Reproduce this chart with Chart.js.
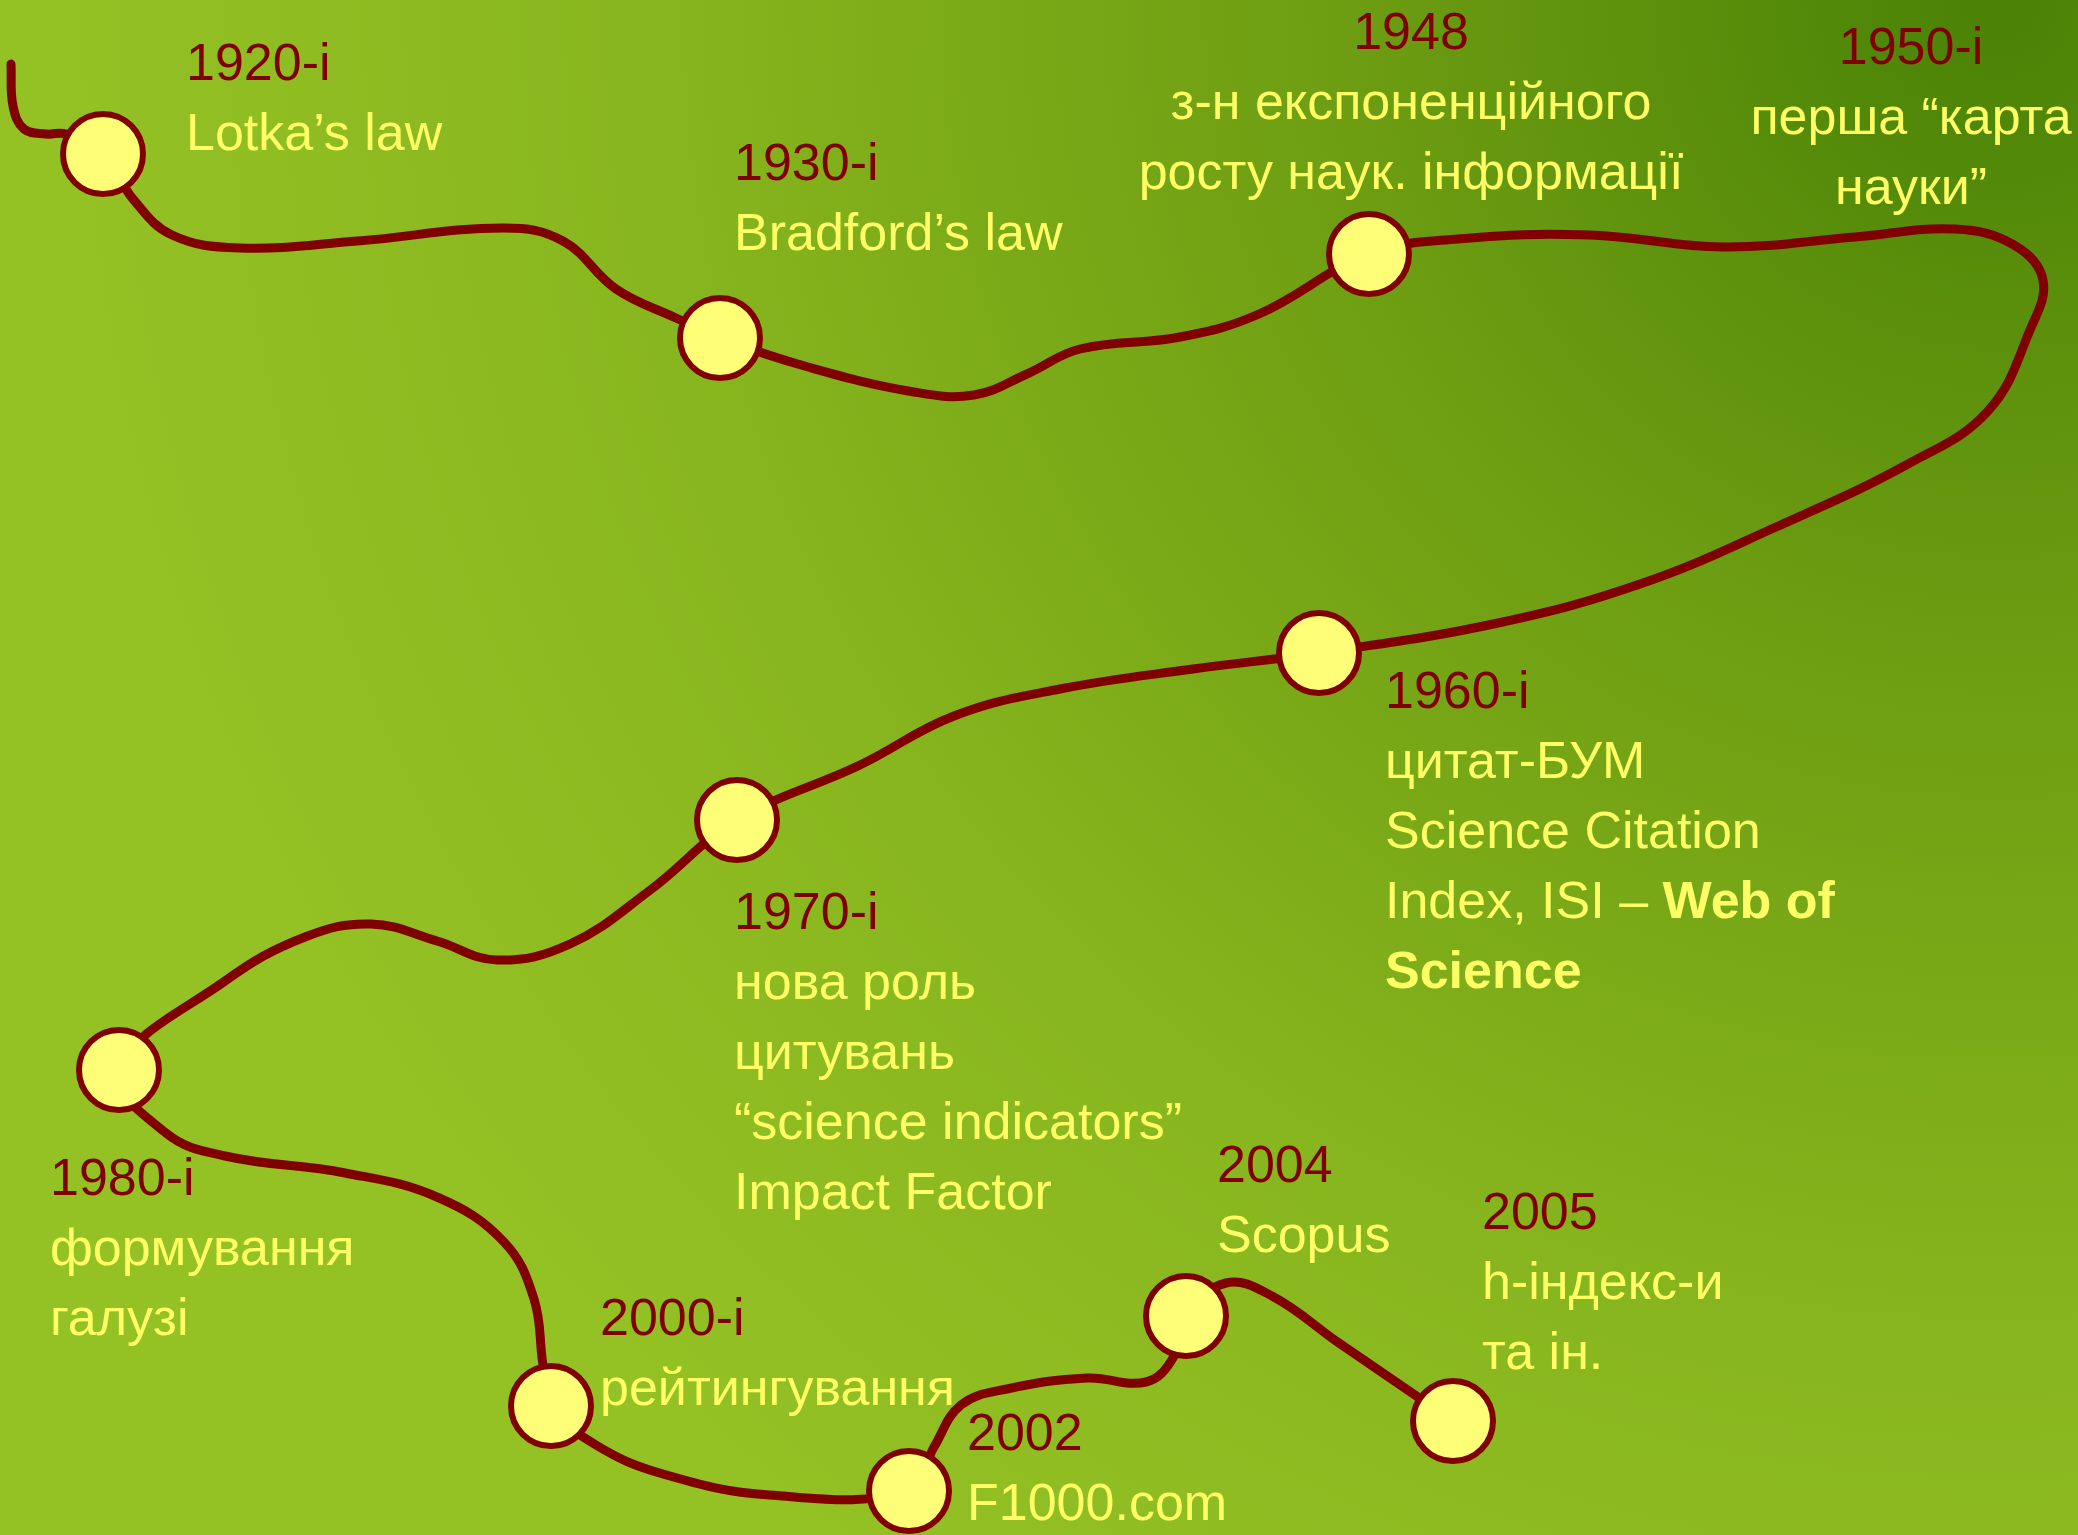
<!DOCTYPE html>
<html lang="uk">
<head>
<meta charset="utf-8">
<title>Історія наукометрії</title>
<script src="https://cdn.jsdelivr.net/npm/chart.js@4.4.1/dist/chart.umd.min.js"></script>
<style>
  html, body { margin: 0; padding: 0; background: #86b41e; overflow: hidden; }
  canvas { display: block; }
</style>
</head>
<body>
<canvas id="timeline" width="2078" height="1535"></canvas>
<script>
// ------------------------------------
// Data (slide coordinates, y goes down)
// ------------------------------------
const nodeX = [103, 720, 1369, 1319, 737, 119, 551, 909, 1186, 1453];
const nodeY = [154, 338, 254, 653, 820, 1070, 1406, 1491, 1316, 1421];

// winding road through the nodes
const pathX = [11, 13, 24, 46, 66, 103, 133, 172, 239, 358, 504, 563, 616, 676, 720,
  808, 914, 974, 1027, 1080, 1180, 1259, 1369,
  1458, 1590, 1723, 1855, 1955, 2014, 2043, 2030, 1988, 1908, 1776, 1643, 1498, 1319,
  1193, 1060, 954, 860, 737,
  649, 570, 497, 437, 371, 305, 225, 119,
  166, 225, 345, 437, 504, 534, 543, 551,
  596, 663, 769, 909,
  934, 961, 1007, 1087, 1146, 1173, 1186,
  1226, 1272, 1339, 1453];
const pathY = [64, 106, 129, 134, 134, 154, 199, 235, 248, 241, 228, 241, 289, 318, 338,
  367, 392, 395, 374, 349, 337, 314, 254,
  239, 235, 247, 237, 229, 245, 280, 330, 411, 464, 527, 583, 623, 653,
  669, 689, 716, 765, 820,
  891, 944, 960, 941, 924, 937, 981, 1070,
  1133, 1156, 1173, 1197, 1242, 1299, 1365, 1406,
  1445, 1474, 1495, 1491,
  1447, 1405, 1389, 1378, 1382, 1358, 1316,
  1283, 1296, 1343, 1421];

// captions: first line is the period
const captionLines = [
  ["1920-і", "Lotka’s law"],
  ["1930-і", "Bradford’s law"],
  ["1948", "з-н експоненційного", "росту наук. інформації"],
  ["1950-і", "перша “карта", "науки”"],
  ["1960-і", "цитат-БУМ", "Science Citation",
    [{ t: "Index, ISI – " }, { t: "Web of", b: true }], [{ t: "Science", b: true }]],
  ["1970-і", "нова роль", "цитувань", "“science indicators”", "Impact Factor"],
  ["1980-і", "формування", "галузі"],
  ["2000-і", "рейтингування"],
  ["2002", "F1000.com"],
  ["2004", "Scopus"],
  ["2005", "h-індекс-и", "та ін."],
];
const captionX = [186, 734, 1411, 1911, 1385, 734, 50, 600, 967, 1217, 1482];
const captionY = [80, 180, 49, 64, 708, 929, 1195, 1335, 1450, 1182, 1229];
const captionAlign = ["left", "left", "center", "center", "left", "left", "left", "left", "left", "left", "left"];

const DARK_RED = "#800000";
const YELLOW = "#ffff66";
const FONT = "'Liberation Sans', Arial, Helvetica, sans-serif";

// ------------------------------------
// background gradient
// ------------------------------------
const backgroundPlugin = {
  id: "slideBackground",
  beforeDraw(chart) {
    const { ctx, width, height } = chart;
    const g = ctx.createRadialGradient(2000, 0, 0, 2000, 0, 1950);
    g.addColorStop(0, "#4a8206");
    g.addColorStop(0.35, "#6e9e12");
    g.addColorStop(0.7, "#88b61e");
    g.addColorStop(1, "#94c124");
    ctx.save();
    ctx.fillStyle = g;
    ctx.fillRect(0, 0, width, height);
    ctx.restore();
  },
};

// ------------------------------------
// captions
// ------------------------------------
const captionPlugin = {
  id: "captions",
  afterDatasetsDraw(chart) {
    const { ctx, scales } = chart;
    const lineStep = 70;
    ctx.save();
    ctx.textBaseline = "alphabetic";
    captionLines.forEach((lines, i) => {
      const px = scales.x.getPixelForValue(captionX[i]);
      let py = scales.y.getPixelForValue(captionY[i]);
      lines.forEach((line, li) => {
        const runs = typeof line === "string" ? [{ t: line }] : line;
        ctx.fillStyle = li === 0 ? DARK_RED : YELLOW;
        const widths = runs.map((r) => {
          ctx.font = `${r.b ? "bold " : ""}52px ${FONT}`;
          return ctx.measureText(r.t).width;
        });
        const total = widths.reduce((a, b) => a + b, 0);
        let x = captionAlign[i] === "center" ? px - total / 2 : px;
        ctx.textAlign = "left";
        runs.forEach((r, ri) => {
          ctx.font = `${r.b ? "bold " : ""}52px ${FONT}`;
          ctx.fillText(r.t, x, py);
          x += widths[ri];
        });
        py += lineStep;
      });
    });
    ctx.restore();
  },
};

// ------------------------------------
// Chart.js
// ------------------------------------
const nodes = nodeX.map((x, i) => ({ x, y: nodeY[i] }));
const road = pathX.map((x, i) => ({ x, y: pathY[i] }));

new Chart(document.getElementById("timeline"), {
  type: "scatter",
  data: {
    datasets: [
      {
        label: "події",
        data: nodes,
        order: 0,
        pointRadius: 40,
        pointHoverRadius: 40,
        pointBackgroundColor: "#ffff77",
        pointBorderColor: DARK_RED,
        pointBorderWidth: 6,
        showLine: false,
        clip: false,
      },
      {
        label: "шлях",
        data: road,
        order: 1,
        showLine: true,
        tension: 0.4,
        borderColor: DARK_RED,
        borderWidth: 9,
        borderCapStyle: "round",
        borderJoinStyle: "round",
        pointRadius: 0,
        pointHoverRadius: 0,
        fill: false,
        clip: false,
      },
    ],
  },
  options: {
    responsive: false,
    animation: false,
    devicePixelRatio: 1,
    layout: { padding: 0, autoPadding: false },
    events: [],
    plugins: { legend: { display: false }, tooltip: { enabled: false } },
    scales: {
      x: { type: "linear", min: 0, max: 2078, display: false },
      y: { type: "linear", min: 0, max: 1535, reverse: true, display: false },
    },
  },
  plugins: [backgroundPlugin, captionPlugin],
});
</script>
</body>
</html>
